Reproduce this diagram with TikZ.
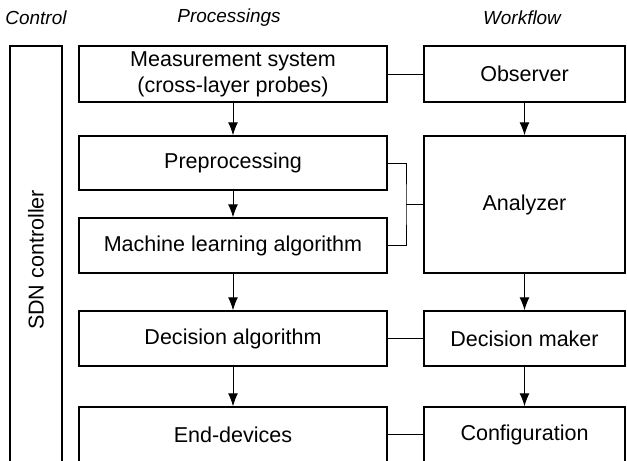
\documentclass[tikz,border=0pt]{standalone}
\usepackage{fontspec}
\setmainfont{Liberation Sans}
\usetikzlibrary{arrows.meta}

\tikzset{
  box/.style={draw,line width=0.7bp,inner sep=0pt,align=center,font=\fontsize{10.8}{13}\selectfont},
  procbox/.style={box,minimum width=154bp},
  flowbox/.style={box,minimum width=100.5bp},
  hdr/.style={font=\fontsize{9.5}{12}\selectfont\itshape},
  link/.style={line width=0.5bp},
  flow/.style={line width=0.5bp,-{Latex[length=6.5bp,width=5bp]}}
}

\begin{document}
\begin{tikzpicture}

\useasboundingbox (0bp,0bp) rectangle (313.5bp,-230.5bp);
\clip (0bp,0bp) rectangle (313.5bp,-230.5bp);

\node (ctrl) at (18bp,-9bp)[hdr] {Control};
\node (proc) at (114.5bp,-9bp)[hdr] {Processings};
\node (wflow) at (261bp,-9bp)[hdr] {Workflow};

\node (sdn) at (18bp,-130bp)[box,rotate=90,minimum width=214bp,minimum height=26bp] {SDN controller};

\node (meas) at (116.5bp,-37bp)[procbox,minimum height=28bp] {Measurement system\\(cross-layer probes)};
\node (obs) at (262.25bp,-37bp)[flowbox,minimum height=28bp] {Observer};
\node (pre) at (116.5bp,-81.5bp)[procbox,minimum height=27bp] {Preprocessing};
\node (ml) at (116.5bp,-122.75bp)[procbox,minimum height=27.5bp] {Machine learning algorithm};
\node (ana) at (262.25bp,-102.25bp)[flowbox,minimum height=68.5bp] {Analyzer};
\node (dec) at (116.5bp,-169.25bp)[procbox,minimum height=27.5bp] {Decision algorithm};
\node (dm) at (262.25bp,-169.25bp)[flowbox,minimum height=27.5bp] {Decision maker};
\node (dev) at (116.5bp,-217.25bp)[procbox,minimum height=27.5bp] {End-devices};
\node (conf) at (262.25bp,-217.25bp)[flowbox,minimum height=27.5bp] {Configuration};

\coordinate (brk) at (203bp,-102.25bp);

\draw [link] (meas) -- (obs);
\draw [flow] (meas) -- (pre);
\draw [flow] (obs) -- (ana);
\draw [flow] (pre) -- (ml);
\draw [link] (pre.east) -| (brk) |- (ml.east);
\draw [link] (brk) -- (ana.west);
\draw [flow] (ml) -- (dec);
\draw [flow] (ana) -- (dm);
\draw [link] (dec) -- (dm);
\draw [flow] (dec) -- (dev);
\draw [flow] (dm) -- (conf);
\draw [link] (dev) -- (conf);
\end{tikzpicture}
\end{document}
